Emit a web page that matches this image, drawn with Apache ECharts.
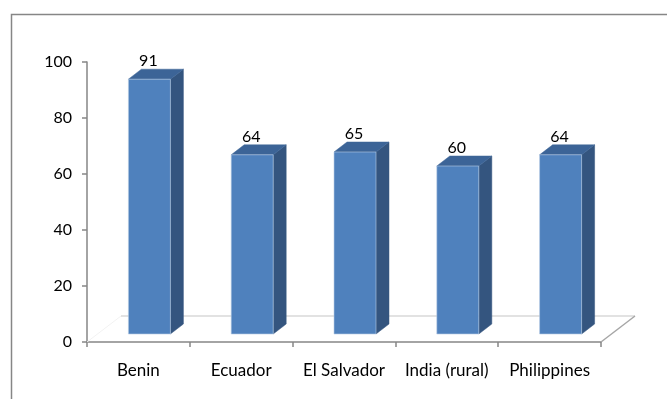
<!DOCTYPE html>
<html>
<head>
<meta charset="utf-8">
<script src="https://cdn.jsdelivr.net/npm/echarts@6/dist/echarts.min.js"></script>
<style>html,body{margin:0;padding:0;background:#fff;}#c{width:667px;height:399px;}</style>
</head>
<body>
<div id="c"></div>
<script>
const categories = ['Benin', 'Ecuador', 'El Salvador', 'India (rural)', 'Philippines'];
const values = [91, 64, 65, 60, 64];
const yTicks = [0, 20, 40, 60, 80, 100];

const chart = echarts.init(document.getElementById('c'));
const FONT = 'Lato';

function floorItem(params, api) {
  const p0 = api.coord([0, 0]);
  const bw = api.size([1, 0])[0];
  const n = categories.length;
  const xl = p0[0] - bw / 2;
  const xr = xl + bw * n;
  const y0 = p0[1];
  const k = bw / 102.8;
  const dx = 34 * k, dy = -26 * k;
  return {
    type: 'group',
    children: [
      { type: 'line', shape: { x1: xl + dx, y1: y0 + dy, x2: xr + dx, y2: y0 + dy }, style: { stroke: '#d9d9d9', lineWidth: 1.5 } },
      { type: 'line', shape: { x1: xr, y1: y0, x2: xr + dx, y2: y0 + dy }, style: { stroke: '#a6a6a6', lineWidth: 1.5 } },
      { type: 'line', shape: { x1: xl, y1: y0, x2: xl + dx, y2: y0 + dy }, style: { stroke: '#f2f2f2', lineWidth: 1 } }
    ]
  };
}

function barItem(params, api) {
  const idx = api.value(0);
  const v = api.value(1);
  const top = api.coord([idx, v]);
  const base = api.coord([idx, 0]);
  const bw = api.size([1, 0])[0];
  const k = bw / 102.8;
  const w = 42 * k;
  const fx = top[0] - 10 * k;
  const shiftY = -8 * k;
  const ddx = 13 * k, ddy = -10 * k;
  const fy1 = top[1] + shiftY;
  const fy0 = base[1] + shiftY;
  const edge = 'rgba(185,205,229,0.6)';
  return {
    type: 'group',
    children: [
      { type: 'polygon', shape: { points: [[fx + w, fy1], [fx + w + ddx, fy1 + ddy], [fx + w + ddx, fy0 + ddy], [fx + w, fy0]] }, style: { fill: '#34557f', stroke: '#34557f', lineWidth: 0.5 } },
      { type: 'polygon', shape: { points: [[fx, fy1], [fx + ddx, fy1 + ddy], [fx + w + ddx, fy1 + ddy], [fx + w, fy1]] }, style: { fill: '#3c6497', stroke: '#3c6497', lineWidth: 0.5 } },
      { type: 'rect', shape: { x: fx, y: fy1, width: w, height: fy0 - fy1 }, style: { fill: '#4f81bd', stroke: edge, lineWidth: 1 } },
      { type: 'text', style: { x: fx + w / 2 - 1, y: fy1 + ddy - 8, text: String(v), fill: '#000', font: '16px ' + FONT, align: 'center', verticalAlign: 'middle' } }
    ]
  };
}

chart.setOption({
  animation: false,
  grid: { left: 87, right: 66, top: 62, bottom: 57, containLabel: false },
  graphic: [
    { type: 'rect', left: 9, top: 12, shape: { width: 700, height: 420 }, style: { fill: 'none', stroke: '#868686', lineWidth: 1.5 }, z: -10 }
  ],
  xAxis: {
    type: 'category',
    data: categories,
    axisLine: { lineStyle: { color: '#868686', width: 1.5 } },
    axisTick: { show: true, length: 5, lineStyle: { color: '#868686', width: 1.5 } },
    axisLabel: { color: '#000', fontFamily: FONT, fontSize: 17, margin: 20, interval: 0 }
  },
  yAxis: {
    type: 'value',
    min: 0, max: 100, interval: 20,
    axisLine: { show: true, lineStyle: { color: '#868686', width: 1.5 } },
    axisTick: { show: true, length: 5, lineStyle: { color: '#868686', width: 1.5 } },
    splitLine: { show: false },
    axisLabel: { color: '#000', fontFamily: FONT, fontSize: 16, margin: 15,
      formatter: function (val) { return yTicks.indexOf(val) >= 0 ? String(val) : ''; } }
  },
  series: [
    { type: 'custom', renderItem: floorItem, data: [[0, 0]], z: 1, silent: true },
    { type: 'custom', renderItem: barItem, data: values.map((v, i) => [i, v]), z: 2, encode: { x: 0, y: 1 } }
  ]
});
</script>
</body>
</html>
